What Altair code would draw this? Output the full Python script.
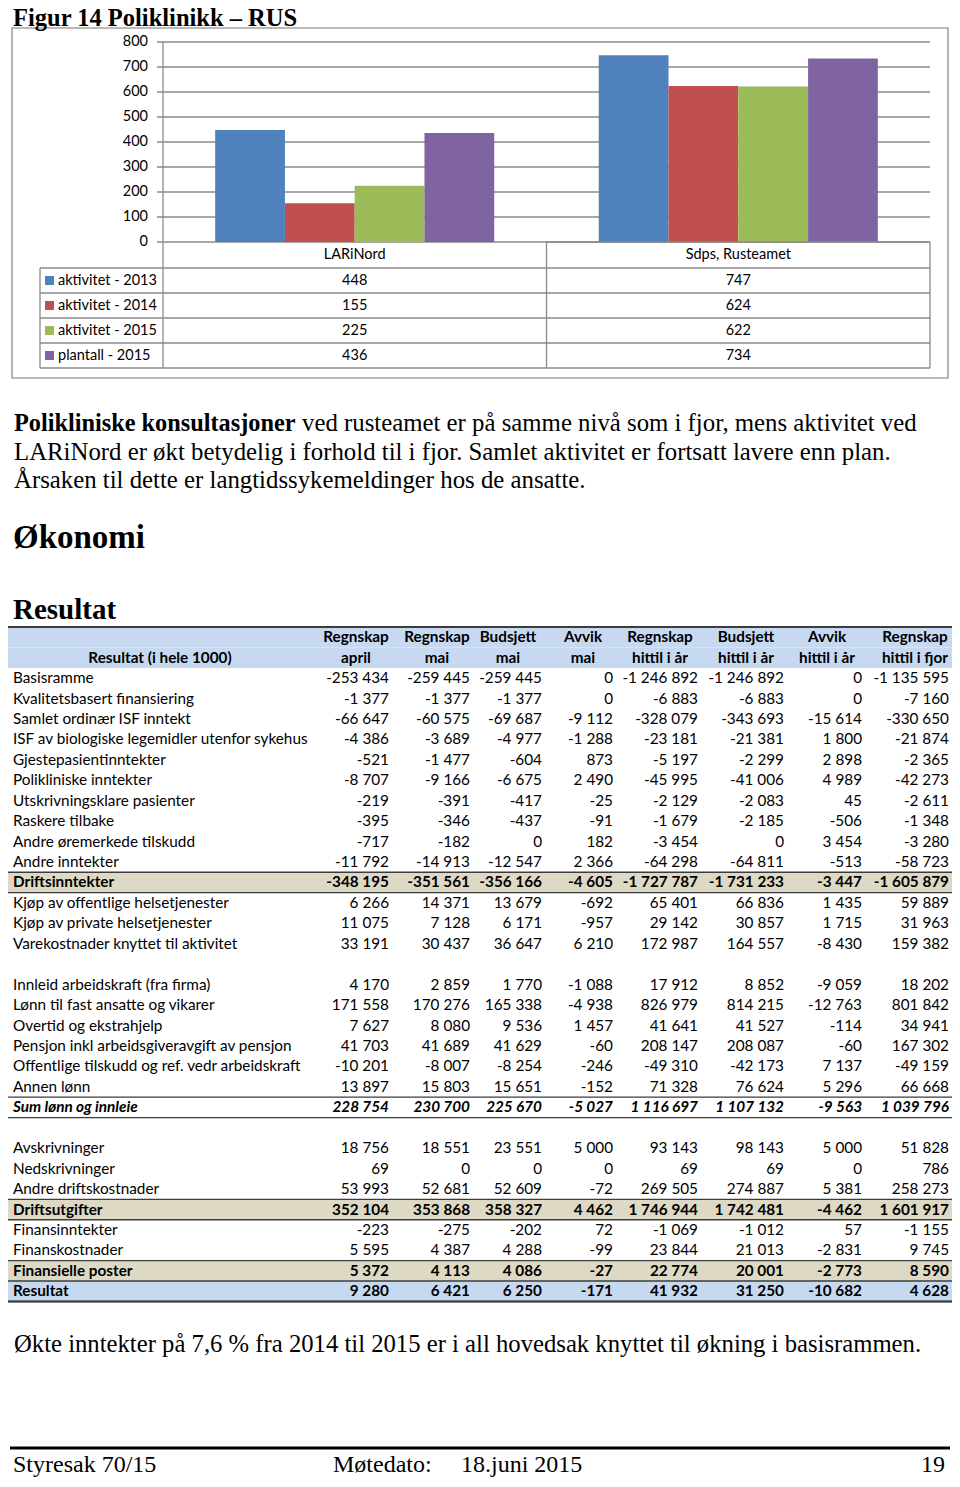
import altair as alt
import pandas as pd

# ---------------- bar chart data ----------------
CATEGORIES = ["LARiNord", "Sdps, Rusteamet"]
SERIES = ["aktivitet - 2013", "aktivitet - 2014", "aktivitet - 2015", "plantall - 2015"]
AKTIVITET_2013 = [448, 747]
AKTIVITET_2014 = [155, 624]
AKTIVITET_2015 = [225, 622]
PLANTALL_2015 = [436, 734]
Y_TICKS = [0, 100, 200, 300, 400, 500, 600, 700, 800]

# ---------------- result table data ----------------
HEADER_TOP = ["Regnskap", "Regnskap", "Budsjett", "Avvik", "Regnskap", "Budsjett", "Avvik", "Regnskap"]
HEADER_BOTTOM = ["april", "mai", "mai", "mai", "hittil i år", "hittil i år", "hittil i år", "hittil i fjor"]
HEADER_LABEL = "Resultat (i hele 1000)"
ROW_LABELS = [
    "Basisramme", "Kvalitetsbasert finansiering", "Samlet ordinær ISF inntekt",
    "ISF av biologiske legemidler utenfor sykehus", "Gjestepasientinntekter",
    "Polikliniske inntekter", "Utskrivningsklare pasienter", "Raskere tilbake",
    "Andre øremerkede tilskudd", "Andre inntekter", "Driftsinntekter",
    "Kjøp av offentlige helsetjenester", "Kjøp av private helsetjenester",
    "Varekostnader knyttet til aktivitet", "",
    "Innleid arbeidskraft (fra firma)", "Lønn til fast ansatte og vikarer",
    "Overtid og ekstrahjelp", "Pensjon inkl arbeidsgiveravgift av pensjon",
    "Offentlige tilskudd og ref. vedr arbeidskraft", "Annen lønn",
    "Sum lønn og innleie", "",
    "Avskrivninger", "Nedskrivninger", "Andre driftskostnader", "Driftsutgifter",
    "Finansinntekter", "Finanskostnader", "Finansielle poster", "Resultat",
]
ROW_KIND = ["n"] * 10 + ["tan"] + ["n"] * 3 + ["blank"] + ["n"] * 6 + ["sum"] + ["blank"] + \
           ["n"] * 3 + ["tan"] + ["n"] * 2 + ["tan"] + ["res"]
REGNSKAP_APRIL = [-253434, -1377, -66647, -4386, -521, -8707, -219, -395, -717, -11792, -348195,
                  6266, 11075, 33191, None, 4170, 171558, 7627, 41703, -10201, 13897, 228754, None,
                  18756, 69, 53993, 352104, -223, 5595, 5372, 9280]
REGNSKAP_MAI = [-259445, -1377, -60575, -3689, -1477, -9166, -391, -346, -182, -14913, -351561,
                14371, 7128, 30437, None, 2859, 170276, 8080, 41689, -8007, 15803, 230700, None,
                18551, 0, 52681, 353868, -275, 4387, 4113, 6421]
BUDSJETT_MAI = [-259445, -1377, -69687, -4977, -604, -6675, -417, -437, 0, -12547, -356166,
                13679, 6171, 36647, None, 1770, 165338, 9536, 41629, -8254, 15651, 225670, None,
                23551, 0, 52609, 358327, -202, 4288, 4086, 6250]
AVVIK_MAI = [0, 0, -9112, -1288, 873, 2490, -25, -91, 182, 2366, -4605,
             -692, -957, 6210, None, -1088, -4938, 1457, -60, -246, -152, -5027, None,
             5000, 0, -72, 4462, 72, -99, -27, -171]
REGNSKAP_HITTIL = [-1246892, -6883, -328079, -23181, -5197, -45995, -2129, -1679, -3454, -64298, -1727787,
                   65401, 29142, 172987, None, 17912, 826979, 41641, 208147, -49310, 71328, 1116697, None,
                   93143, 69, 269505, 1746944, -1069, 23844, 22774, 41932]
BUDSJETT_HITTIL = [-1246892, -6883, -343693, -21381, -2299, -41006, -2083, -2185, 0, -64811, -1731233,
                   66836, 30857, 164557, None, 8852, 814215, 41527, 208087, -42173, 76624, 1107132, None,
                   98143, 69, 274887, 1742481, -1012, 21013, 20001, 31250]
AVVIK_HITTIL = [0, 0, -15614, 1800, 2898, 4989, 45, -506, 3454, -513, -3447,
                1435, 1715, -8430, None, -9059, -12763, -114, -60, 7137, 5296, -9563, None,
                5000, 0, 5381, -4462, 57, -2831, -2773, -10682]
REGNSKAP_FJOR = [-1135595, -7160, -330650, -21874, -2365, -42273, -2611, -1348, -3280, -58723, -1605879,
                 59889, 31963, 159382, None, 18202, 801842, 34941, 167302, -49159, 66668, 1039796, None,
                 51828, 786, 258273, 1601917, -1155, 9745, 8590, 4628]

# ---------------- layout / style (page pixel coordinates) ----------------
SERIF = "Liberation Serif"
SANS = "Lato"
COLORS = ["#4F81BD", "#C0504D", "#9BBB59", "#8064A2"]
GRID = "#8a8a8a"
TAB_LINE = "#3c3c3c"
BLUE_BG = "#C6D9F1"
TAN_BG = "#DDD9C4"


def px(v):
    return v - 8  # page coordinates -> chart coordinates (8px body margin)


ONE = pd.DataFrame({"k": [0]})


def txt(s, x, y, size, font=SERIF, weight="normal", style="normal", align="left",
        baseline="alphabetic", color="#000000"):
    return alt.Chart(pd.DataFrame({"t": [s]})).mark_text(
        align=align, baseline=baseline, font=font, fontSize=size,
        fontWeight=weight, fontStyle=style, color=color
    ).encode(text="t:N", x=alt.value(px(x)), y=alt.value(px(y)))


def hline(x1, x2, y, color, w):
    return alt.Chart(ONE).mark_rule(color=color, strokeWidth=w).encode(
        x=alt.value(px(x1)), x2=alt.value(px(x2)), y=alt.value(px(y)))


def vline(x, y1, y2, color, w):
    return alt.Chart(ONE).mark_rule(color=color, strokeWidth=w).encode(
        x=alt.value(px(x)), y=alt.value(px(y1)), y2=alt.value(px(y2)))


def box(x1, x2, y1, y2, color, w):
    return alt.Chart(ONE).mark_rect(fillOpacity=0, stroke=color, strokeWidth=w).encode(
        x=alt.value(px(x1)), x2=alt.value(px(x2)), y=alt.value(px(y1)), y2=alt.value(px(y2)))


# ---------------- bar chart section ----------------
bar_rows = []
for s, vals in zip(SERIES, [AKTIVITET_2013, AKTIVITET_2014, AKTIVITET_2015, PLANTALL_2015]):
    for c, v in zip(CATEGORIES, vals):
        bar_rows.append({"cat": c, "series": s, "val": v})
bar_df = pd.DataFrame(bar_rows)

X_BAND = alt.Scale(domain=CATEGORIES, range=[px(163), px(930)], paddingInner=0.2725, paddingOuter=0.136)
Y_LIN = alt.Scale(domain=[0, 800], range=[px(242), px(42)], nice=False, zero=True)
COLOR_SCALE = alt.Scale(domain=SERIES, range=COLORS)

tick_df = pd.DataFrame({"v": Y_TICKS})
grid = alt.Chart(tick_df).mark_rule(color=GRID, strokeWidth=1.3).encode(
    y=alt.Y("v:Q", scale=Y_LIN, axis=None), x=alt.value(px(157)), x2=alt.value(px(930)))
tick_labels = alt.Chart(tick_df).mark_text(align="right", baseline="middle", font=SANS,
                                           fontSize=14.5, color="#000000").encode(
    y=alt.Y("v:Q", scale=Y_LIN, axis=None), x=alt.value(px(148)), text="v:Q")
bars = alt.Chart(bar_df).mark_bar().encode(
    x=alt.X("cat:N", scale=X_BAND, axis=None),
    xOffset=alt.XOffset("series:N", scale=alt.Scale(domain=SERIES)),
    y=alt.Y("val:Q", scale=Y_LIN, axis=None),
    color=alt.Color("series:N", scale=COLOR_SCALE, legend=None),
)
cat_labels = alt.Chart(pd.DataFrame({"cat": CATEGORIES})).mark_text(
    baseline="middle", font=SANS, fontSize=14.5, color="#000000").encode(
    x=alt.X("cat:N", scale=X_BAND, axis=None, bandPosition=0.5),
    y=alt.value(px(255)), text="cat:N")

ROW_CENTERS = [280.5, 305.5, 330.5, 355.5]
bar_layers = [grid, tick_labels, bars, cat_labels]
for i, s in enumerate(SERIES):
    yc = ROW_CENTERS[i]
    bar_layers.append(
        alt.Chart(bar_df[bar_df.series == s]).mark_text(
            baseline="middle", font=SANS, fontSize=14.5, color="#000000").encode(
            x=alt.X("cat:N", scale=X_BAND, axis=None, bandPosition=0.5),
            y=alt.value(px(yc)), text="val:Q"))
    bar_layers.append(
        alt.Chart(ONE).mark_rect(color=COLORS[i]).encode(
            x=alt.value(px(45)), x2=alt.value(px(54)), y=alt.value(px(yc - 4.5)), y2=alt.value(px(yc + 4.5))))
    bar_layers.append(txt(s, 58, yc, 14.5, font=SANS, baseline="middle"))

# data-table grid lines
for y in [268, 293, 318, 343, 368]:
    bar_layers.append(hline(40, 930, y, GRID, 1.3))
bar_layers.append(hline(546.5, 930, 242, GRID, 1.3))
bar_layers.append(vline(40, 268, 368, GRID, 1.3))
bar_layers.append(vline(163, 42, 368, GRID, 1.3))
bar_layers.append(vline(546.5, 242, 368, GRID, 1.3))
bar_layers.append(vline(930, 242, 368, GRID, 1.3))
bar_layers.append(box(12, 948, 28, 378, "#a3a3a3", 1.6))

bar_section = alt.layer(*bar_layers)

# ---------------- result table section ----------------
N_ROWS = 2 + len(ROW_LABELS)
Y_TAB = alt.Scale(type="band", domain=list(range(N_ROWS)), range=[px(627), px(1301.5)],
                  paddingInner=0, paddingOuter=0)
X_TAB = alt.Scale(domain=[0, 944], range=[0, 944], nice=False, zero=False)
NUM_RIGHT = [389, 470, 542, 613, 698, 784, 862, 949]
HEAD_CENTER = [356, 437, 508, 583, 660, 746, 827, 915]
COLUMNS = [REGNSKAP_APRIL, REGNSKAP_MAI, BUDSJETT_MAI, AVVIK_MAI,
           REGNSKAP_HITTIL, BUDSJETT_HITTIL, AVVIK_HITTIL, REGNSKAP_FJOR]


def fmt(v):
    return f"{v:,}".replace(",", " ")


cells = []
for j in range(8):
    cells.append({"r": 0, "x": px(HEAD_CENTER[j]), "t": HEADER_TOP[j], "kind": "head"})
    cells.append({"r": 1, "x": px(HEAD_CENTER[j]), "t": HEADER_BOTTOM[j], "kind": "head"})
cells.append({"r": 1, "x": px(160), "t": HEADER_LABEL, "kind": "head"})
for i, (lab, kind) in enumerate(zip(ROW_LABELS, ROW_KIND)):
    if kind == "blank":
        continue
    style = "n" if kind == "n" else ("bi" if kind == "sum" else "b")
    cells.append({"r": i + 2, "x": px(13), "t": lab, "kind": "label_" + style})
    for j, col in enumerate(COLUMNS):
        cells.append({"r": i + 2, "x": px(NUM_RIGHT[j]), "t": fmt(col[i]), "kind": "num_" + style})
cell_df = pd.DataFrame(cells)

rows_df = pd.DataFrame({"r": list(range(N_ROWS)), "kind": ["head", "head"] + ROW_KIND})


def row_rect(kind, fill, stroke_w):
    return alt.Chart(rows_df[rows_df.kind == kind]).mark_rect(
        color=fill, stroke=TAB_LINE, strokeWidth=stroke_w).encode(
        y=alt.Y("r:O", scale=Y_TAB, axis=None), x=alt.value(px(7)), x2=alt.value(px(956)))


def cell_text(kind, align, weight, style):
    return alt.Chart(cell_df[cell_df.kind == kind]).mark_text(
        align=align, baseline="middle", font=SANS, fontSize=15.3, fontWeight=weight,
        fontStyle=style, color="#000000").encode(
        x=alt.X("x:Q", scale=X_TAB, axis=None),
        y=alt.Y("r:O", scale=Y_TAB, axis=None, bandPosition=0.5),
        text="t:N")


table_layers = [
    row_rect("head", BLUE_BG, 0),
    row_rect("tan", TAN_BG, 1.3),
    row_rect("sum", "#ffffff", 1.3),
    row_rect("res", BLUE_BG, 1.3),
    cell_text("head", "center", "bold", "normal"),
    cell_text("label_n", "left", "normal", "normal"),
    cell_text("label_b", "left", "bold", "normal"),
    cell_text("label_bi", "left", "bold", "italic"),
    cell_text("num_n", "right", "normal", "normal"),
    cell_text("num_b", "right", "bold", "normal"),
    cell_text("num_bi", "right", "bold", "italic"),
    box(7, 956, 627, 1301.5, TAB_LINE, 2),
]
table_section = alt.layer(*table_layers)

# ---------------- free text section ----------------
text_layers = [
    txt("Figur 14 Poliklinikk – RUS", 13, 26, 24.5, weight="bold"),
    txt("Polikliniske konsultasjoner", 14, 431, 24.3, weight="bold"),
    txt("ved rusteamet er på samme nivå som i fjor, mens aktivitet ved", 302, 431, 24.8),
    txt("LARiNord er økt betydelig i forhold til i fjor. Samlet aktivitet er fortsatt lavere enn plan.", 14, 459.5, 24.8),
    txt("Årsaken til dette er langtidssykemeldinger hos de ansatte.", 14, 488, 24.8),
    txt("Økonomi", 13, 548, 33, weight="bold"),
    txt("Resultat", 13, 619, 29, weight="bold"),
    txt("Økte inntekter på 7,6 % fra 2014 til 2015 er i all hovedsak knyttet til økning i basisrammen.", 14, 1352, 24.7),
    hline(10, 950, 1448, "#000000", 3),
    txt("Styresak 70/15", 13, 1472, 24),
    txt("Møtedato:", 333, 1472, 24),
    txt("18.juni 2015", 461, 1472, 24),
    txt("19", 945, 1472, 24, align="right"),
]
text_section = alt.layer(*text_layers)

chart = alt.layer(bar_section, table_section, text_section).resolve_scale(
    x="independent", y="independent", color="independent"
).properties(
    width=944, height=1471, autosize=alt.AutoSizeParams(type="none"), padding=0
).configure_view(strokeWidth=0)

chart.save("out.html", embed_options={"renderer": "svg", "actions": False})
